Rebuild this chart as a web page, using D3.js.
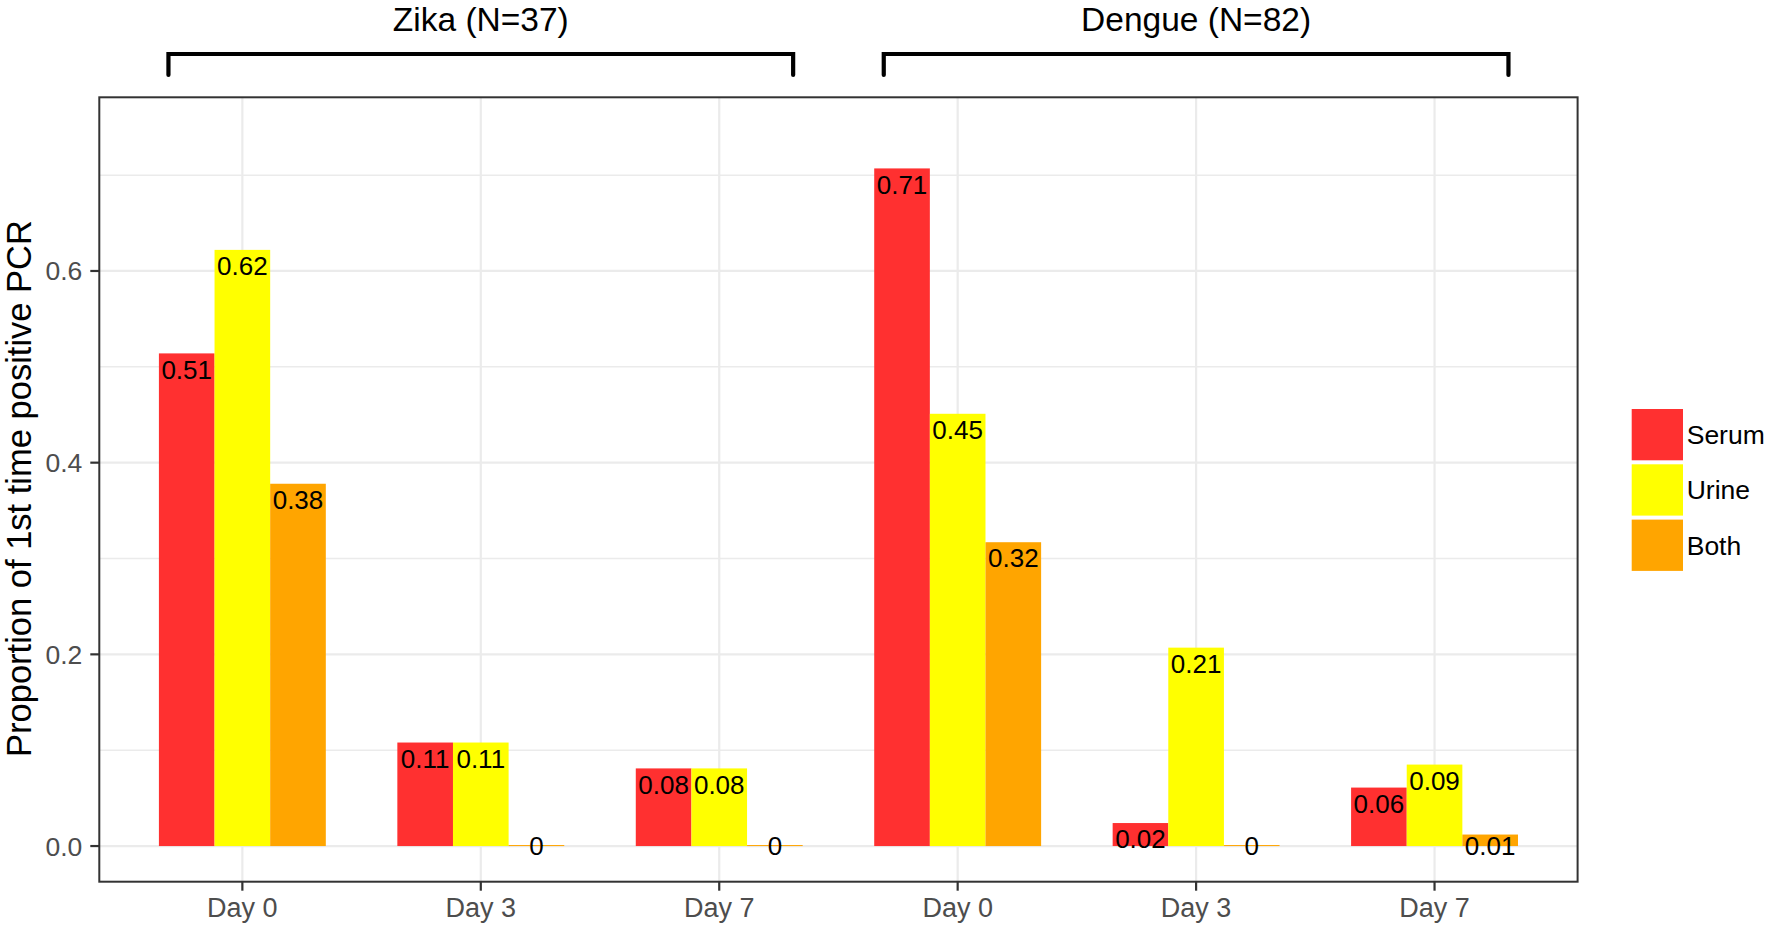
<!DOCTYPE html>
<html>
<head>
<meta charset="utf-8">
<script src="https://cdn.jsdelivr.net/npm/d3@7"></script>
<style>
  html, body { margin: 0; padding: 0; background: #fff; }
  svg { display: block; font-family: "Liberation Sans", Arial, sans-serif; }
</style>
</head>
<body>
<svg id="chart" width="1770" height="925"></svg>
<script>
// ---------- data ----------
const groups = ["Zika (N=37)", "Dengue (N=82)"];
const days = ["Day 0", "Day 3", "Day 7"];
const series = ["Serum", "Urine", "Both"];
const colors = ["#FF3030", "#FFFF00", "#FFA500"];
// values per group, per day: [Serum, Urine, Both]
const zikaValues = [[0.514, 0.622, 0.378], [0.108, 0.108, 0.0], [0.081, 0.081, 0.0]];
const dengueValues = [[0.707, 0.451, 0.317], [0.024, 0.207, 0.0], [0.061, 0.085, 0.012]];
const zikaLabels = [["0.51", "0.62", "0.38"], ["0.11", "0.11", "0"], ["0.08", "0.08", "0"]];
const dengueLabels = [["0.71", "0.45", "0.32"], ["0.02", "0.21", "0"], ["0.06", "0.09", "0.01"]];
const yTicks = [0.0, 0.2, 0.4, 0.6];
const yMinor = [0.1, 0.3, 0.5, 0.7];
const yTitle = "Proportion of 1st time positive PCR";

// ---------- layout ----------
const panel = { left: 99.3, right: 1577.6, top: 97.3, bottom: 881.7 };
const svg = d3.select("#chart");

const cats = [];
groups.forEach((g, gi) => days.forEach(d => cats.push(gi + "|" + d)));

const x = d3.scalePoint().domain(cats).range([panel.left, panel.right]).padding(0.6);
const step = x.step();
const x1 = d3.scaleBand().domain(series).range([-0.35 * step, 0.35 * step]).padding(0);
const y = d3.scaleLinear().domain([-0.0372, 0.7812]).range([panel.bottom, panel.top]);
const color = d3.scaleOrdinal().domain(series).range(colors);

const rows = [];
[zikaValues, dengueValues].forEach((vals, gi) => {
  const labs = gi === 0 ? zikaLabels : dengueLabels;
  days.forEach((d, di) => {
    series.forEach((s, si) => {
      rows.push({ cat: gi + "|" + d, series: s, value: vals[di][si], label: labs[di][si] });
    });
  });
});

// ---------- panel background & grid ----------
svg.append("rect")
  .attr("x", panel.left).attr("y", panel.top)
  .attr("width", panel.right - panel.left).attr("height", panel.bottom - panel.top)
  .attr("fill", "#fff");

const grid = svg.append("g");
grid.selectAll("line.minor").data(yMinor).join("line")
  .attr("x1", panel.left).attr("x2", panel.right)
  .attr("y1", d => y(d)).attr("y2", d => y(d))
  .attr("stroke", "#EBEBEB").attr("stroke-width", 1.5);
grid.selectAll("line.majory").data(yTicks).join("line")
  .attr("x1", panel.left).attr("x2", panel.right)
  .attr("y1", d => y(d)).attr("y2", d => y(d))
  .attr("stroke", "#EBEBEB").attr("stroke-width", 2.2);
grid.selectAll("line.majorx").data(cats).join("line")
  .attr("x1", d => x(d)).attr("x2", d => x(d))
  .attr("y1", panel.top).attr("y2", panel.bottom)
  .attr("stroke", "#EBEBEB").attr("stroke-width", 2.2);

// ---------- bars ----------
svg.append("g").selectAll("rect").data(rows).join("rect")
  .attr("x", d => x(d.cat) + x1(d.series))
  .attr("width", x1.bandwidth())
  .attr("y", d => Math.min(y(d.value), y(0) - 1))
  .attr("height", d => Math.max(y(0) - y(d.value), 1))
  .attr("fill", d => color(d.series));

// ---------- bar labels ----------
svg.append("g").selectAll("text").data(rows).join("text")
  .attr("x", d => x(d.cat) + x1(d.series) + x1.bandwidth() / 2)
  .attr("y", d => y(Math.max(d.value - 0.0165, 0)) + 9.3)
  .attr("text-anchor", "middle")
  .attr("font-size", 26)
  .attr("fill", "#000")
  .text(d => d.label);

// ---------- panel border ----------
svg.append("rect")
  .attr("x", panel.left).attr("y", panel.top)
  .attr("width", panel.right - panel.left).attr("height", panel.bottom - panel.top)
  .attr("fill", "none").attr("stroke", "#333").attr("stroke-width", 2);

// ---------- axes ----------
const yAxis = svg.append("g");
yAxis.selectAll("line").data(yTicks).join("line")
  .attr("x1", panel.left - 9).attr("x2", panel.left)
  .attr("y1", d => y(d)).attr("y2", d => y(d))
  .attr("stroke", "#333").attr("stroke-width", 2.2);
yAxis.selectAll("text").data(yTicks).join("text")
  .attr("x", panel.left - 17)
  .attr("y", d => y(d) + 9.5)
  .attr("text-anchor", "end")
  .attr("font-size", 26.5)
  .attr("fill", "#4D4D4D")
  .text(d => d3.format(".1f")(d));

const xAxis = svg.append("g");
xAxis.selectAll("line").data(cats).join("line")
  .attr("x1", d => x(d)).attr("x2", d => x(d))
  .attr("y1", panel.bottom).attr("y2", panel.bottom + 9)
  .attr("stroke", "#333").attr("stroke-width", 2.2);
xAxis.selectAll("text").data(cats).join("text")
  .attr("x", d => x(d))
  .attr("y", 917)
  .attr("text-anchor", "middle")
  .attr("font-size", 27)
  .attr("fill", "#4D4D4D")
  .text(d => d.split("|")[1]);

svg.append("text")
  .attr("transform", `translate(31,${(panel.top + panel.bottom) / 2 - 1}) rotate(-90)`)
  .attr("text-anchor", "middle")
  .attr("font-size", 34.5)
  .attr("fill", "#000")
  .text(yTitle);

// ---------- group brackets & titles ----------
const br = svg.append("g");
groups.forEach((g, gi) => {
  const first = x(gi + "|" + days[0]);
  const last = x(gi + "|" + days[days.length - 1]);
  const x0 = first - 0.31 * step, xe = last + 0.31 * step;
  br.append("path")
    .attr("d", `M${x0},75 L${x0},54 L${xe},54 L${xe},75`)
    .attr("fill", "none").attr("stroke", "#000").attr("stroke-width", 4.2)
    .attr("stroke-linecap", "round").attr("stroke-linejoin", "miter");
  br.append("text")
    .attr("x", (x0 + xe) / 2).attr("y", 31)
    .attr("text-anchor", "middle")
    .attr("font-size", 33.5)
    .attr("fill", "#000")
    .text(g);
});

// ---------- legend ----------
const leg = svg.append("g").attr("transform", "translate(1629.7,407)");
const ly = d3.scaleBand().domain(series).range([0, 55.3 * series.length]);
const li = leg.selectAll("g").data(series).join("g")
  .attr("transform", d => `translate(0,${ly(d)})`);
li.append("rect")
  .attr("x", 2).attr("y", 2)
  .attr("width", ly.bandwidth() - 4).attr("height", ly.bandwidth() - 4)
  .attr("fill", d => color(d));
li.append("text")
  .attr("x", 57).attr("y", ly.bandwidth() / 2 + 9.5)
  .attr("font-size", 26.5)
  .attr("fill", "#000")
  .text(d => d);
</script>
</body>
</html>
